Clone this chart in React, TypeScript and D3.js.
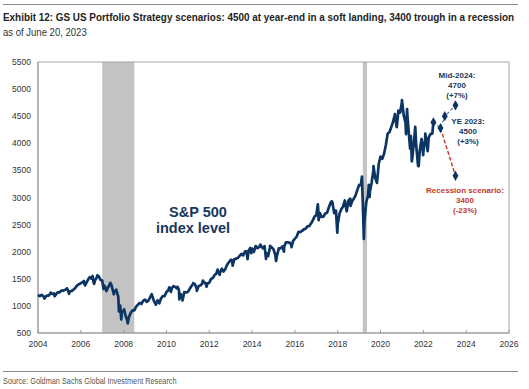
import React, { useLayoutEffect, useRef, useState } from "react";
import * as d3 from "d3";

const W = 529;
const H = 389;

// S&P 500 month-end closes, plotted at the chart's own year positions (first point = chart 2004.0)
const startValue = 1202;
const monthlyClose = [
  1181, 1204, 1181, 1157, 1192, 1191, 1234, 1220, 1229, 1207, 1249, 1248,
  1280, 1281, 1295, 1311, 1270, 1270, 1277, 1304, 1336, 1378, 1401, 1418,
  1438, 1407, 1421, 1482, 1531, 1503, 1455, 1474, 1527, 1549, 1481, 1468,
  1379, 1331, 1323, 1386, 1400, 1280, 1267, 1283, 1166, 969, 896, 903,
  826, 735, 798, 873, 919, 919, 987, 1021, 1057, 1036, 1096, 1115,
  1074, 1104, 1169, 1187, 1089, 1031, 1102, 1049, 1141, 1183, 1181, 1258,
  1286, 1327, 1326, 1364, 1345, 1321, 1292, 1219, 1131, 1253, 1247, 1258,
  1312, 1366, 1408, 1398, 1310, 1362, 1379, 1407, 1441, 1412, 1416, 1426,
  1498, 1515, 1569, 1598, 1631, 1606, 1686, 1633, 1682, 1757, 1806, 1848,
  1783, 1859, 1872, 1884, 1924, 1960, 1931, 2003, 1972, 2018, 2068, 2059,
  1995, 2105, 2068, 2086, 2107, 2063, 2104, 1972, 1920, 2079, 2080, 2044,
  1940, 1932, 2060, 2065, 2097, 2099, 2174, 2171, 2168, 2126, 2199, 2239,
  2279, 2364, 2363, 2384, 2412, 2423, 2470, 2472, 2519, 2575, 2648, 2674,
  2824, 2714, 2641, 2648, 2705, 2718, 2816, 2902, 2914, 2712, 2760, 2507,
  2704, 2784, 2834, 2946, 2752, 2942, 2980, 2926, 2977, 3038, 3141, 3231,
  3226, 2954, 2585, 2912, 3044, 3100, 3271, 3500, 3363, 3270, 3622, 3756,
  3714, 3811, 3973, 4181, 4204, 4298, 4395, 4523, 4308, 4605, 4567, 4766,
  4516, 4374, 4530, 4132, 4132, 3785, 4130, 3955, 3586, 3872, 4080, 3840,
  4077, 3970, 4109, 4169, 4180,
];

// intra-month highs/lows [chart year, level]
const swingTimes = [
  2004.3, 2004.59, 2004.78, 2005.35, 2005.45, 2006.14, 2006.2, 2006.55, 2006.62, 2006.77,
  2007.06, 2007.19, 2007.38, 2007.54, 2007.66, 2007.78, 2007.84, 2007.89, 2008.02, 2008.19,
  2009.31, 2009.5, 2010.13, 2010.21, 2010.52, 2010.6, 2010.75, 2011.25, 2011.42, 2011.7,
  2011.87, 2012.39, 2012.49, 2013.04, 2013.09, 2013.71, 2013.79, 2013.96, 2014.39, 2014.65,
  2014.84, 2015.12, 2015.49, 2015.84, 2017.07, 2017.11, 2017.72, 2017.98, 2018.42, 2018.6,
  2019.13, 2019.22, 2019.45, 2019.49, 2019.67, 2020.67, 2020.76, 2021.0, 2021.19, 2021.24,
  2021.38, 2021.46, 2021.62, 2021.78, 2021.92, 2021.99, 2022.09, 2022.2, 2022.47,
];
const swingValues = [
  1137, 1245, 1177, 1325, 1223, 1460, 1377, 1553, 1406, 1565,
  1310, 1273, 1426, 1214, 1300, 899, 1005, 752, 935, 677,
  1217, 1022, 1343, 1257, 1353, 1119, 1099, 1419, 1278, 1466,
  1353, 1669, 1573, 1848, 1742, 2011, 1862, 1972, 2131, 1868,
  2109, 1829, 2001, 2085, 2873, 2581, 2931, 2351, 2744, 2845,
  3386, 2237, 3232, 3009, 3580, 4537, 4300, 4796, 4170, 4631,
  3901, 3666, 4305, 3577, 4076, 3783, 4179, 3855, 4388,
];

// scenario path (chart years)
const baseTimes = [2022.47, 2022.8, 2023.0, 2023.5];
const baseValues = [4388, 4280, 4500, 4700];
const recTimes = [2022.8, 2023.5];
const recValues = [4280, 3400];

const recessions = [
  [2007.0, 2008.5],
  [2019.17, 2019.37],
];

const yTicks = [500, 1000, 1500, 2000, 2500, 3000, 3500, 4000, 4500, 5000, 5500];
const xTicks = [2004, 2006, 2008, 2010, 2012, 2014, 2016, 2018, 2020, 2022, 2024, 2026];

const NAVY = "#0c3563";
const RED = "#c0392b";
const SANS = "'Liberation Sans', Arial, sans-serif";

function FitText(props: {
  x: number;
  y: number;
  width: number;
  size: number;
  weight?: string;
  fill: string;
  children: string;
}) {
  const ref = useRef<SVGTextElement>(null);
  const [k, setK] = useState(1);
  useLayoutEffect(() => {
    if (ref.current) {
      const w = ref.current.getBBox().width;
      if (w > 0) setK(props.width / w);
    }
  }, [props.width, props.children]);
  return (
    <g transform={`translate(${props.x},${props.y}) scale(${k},1)`}>
      <text
        ref={ref}
        x={0}
        y={0}
        fontFamily={SANS}
        fontWeight={props.weight || "normal"}
        fontSize={props.size}
        fill={props.fill}
      >
        {props.children}
      </text>
    </g>
  );
}

export default function App() {
  const x = d3.scaleLinear().domain([2004, 2026]).range([38, 509]);
  const y = d3.scaleLinear().domain([500, 5500]).range([333, 62]);

  const pts: [number, number][] = [[2004, startValue]];
  monthlyClose.forEach((v, i) => pts.push([2004 + (i + 1) / 12, v]));
  swingTimes.forEach((t, i) => pts.push([t, swingValues[i]]));
  pts.sort((a, b) => a[0] - b[0]);

  const line = d3
    .line<[number, number]>()
    .x((d) => x(d[0]))
    .y((d) => y(d[1]));

  const base: [number, number][] = baseTimes.map((t, i) => [t, baseValues[i]]);
  const rec: [number, number][] = recTimes.map((t, i) => [t, recValues[i]]);

  const diamond = d3.symbol().type(d3.symbolDiamond).size(30)();

  return (
    <svg
      width={W}
      height={H}
      style={{ position: "absolute", left: 0, top: 0, background: "#fff" }}
    >
      <line x1={3} x2={518} y1={4.5} y2={4.5} stroke="#8c8c8c" strokeWidth={1} />
      <FitText x={3} y={21} width={512} size={11.5} weight="bold" fill="#222">
        Exhibit 12: GS US Portfolio Strategy scenarios: 4500 at year-end in a soft landing, 3400 trough in a recession
      </FitText>
      <FitText x={3} y={36} width={84} size={10.5} fill="#333">
        as of June 20, 2023
      </FitText>

      {recessions.map((r, i) => (
        <rect key={i} x={x(r[0])} y={62} width={x(r[1]) - x(r[0])} height={271} fill="#c3c3c3" />
      ))}

      <rect x={38} y={62} width={471} height={271} fill="none" stroke="#a6a6a6" strokeWidth={1} />
      <line x1={38} x2={38} y1={62} y2={333} stroke="#9a9a9a" />
      <line x1={38} x2={509} y1={333} y2={333} stroke="#9a9a9a" />

      {xTicks.map((t) => (
        <g key={t}>
          <line x1={x(t)} x2={x(t)} y1={333} y2={330} stroke="#9a9a9a" />
          <text x={x(t)} y={347} textAnchor="middle" fontFamily={SANS} fontSize={8.5} fill="#333">
            {t}
          </text>
        </g>
      ))}
      {yTicks.map((t) => (
        <text key={t} x={31} y={y(t) + 3} textAnchor="end" fontFamily={SANS} fontSize={8.5} fill="#333">
          {t}
        </text>
      ))}

      <path d={line(pts) || ""} fill="none" stroke={NAVY} strokeWidth={2.7} strokeLinejoin="round" />

      <path d={line(base) || ""} fill="none" stroke="#5b7696" strokeWidth={1.2} strokeDasharray="3,2" />
      <path d={line(rec) || ""} fill="none" stroke={RED} strokeWidth={1.4} strokeDasharray="4,2" />
      {base.concat([rec[1]]).map((d, i) => (
        <path key={i} d={diamond || ""} transform={`translate(${x(d[0])},${y(d[1])})`} fill={NAVY} />
      ))}

      <text x={198} y={217} textAnchor="middle" fontFamily={SANS} fontWeight="bold" fontSize={14.5} fill="#17375e">
        S&amp;P 500
      </text>
      <text x={193} y={233} textAnchor="middle" fontFamily={SANS} fontWeight="bold" fontSize={14.5} fill="#17375e">
        index level
      </text>

      <g fontFamily={SANS} fontWeight="bold" fontSize={8} textAnchor="middle" fill="#17375e">
        <text x={457} y={78}>Mid-2024:</text>
        <text x={457} y={88}>4700</text>
        <text x={457} y={98}>(+7%)</text>
        <text x={468} y={124}>YE 2023:</text>
        <text x={468} y={134}>4500</text>
        <text x={468} y={144}>(+3%)</text>
      </g>
      <g fontFamily={SANS} fontWeight="bold" fontSize={8} textAnchor="middle" fill={RED}>
        <text x={465} y={193}>Recession scenario:</text>
        <text x={465} y={203}>3400</text>
        <text x={465} y={213}>(-23%)</text>
      </g>

      <line x1={3} x2={518} y1={371.5} y2={371.5} stroke="#8c8c8c" strokeWidth={1} />
      <FitText x={3} y={384} width={174} size={9} fill="#555">
        Source: Goldman Sachs Global Investment Research
      </FitText>
    </svg>
  );
}
